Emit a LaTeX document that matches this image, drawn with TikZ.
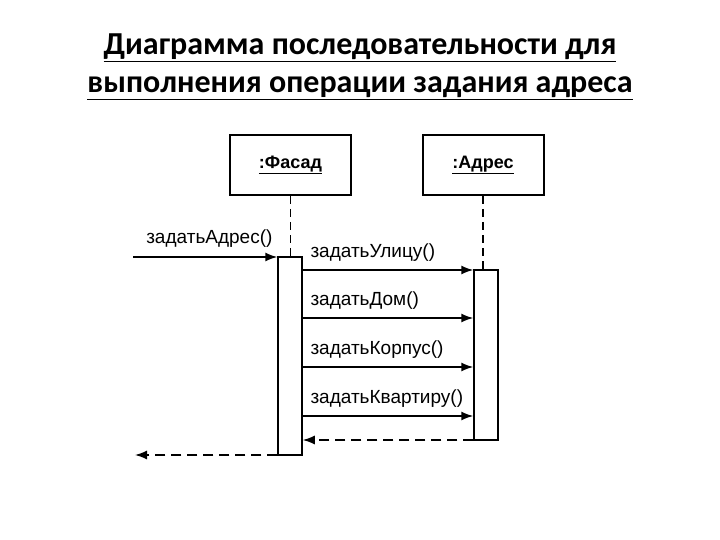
\documentclass[tikz,border=0pt]{standalone}
\usepackage{fontspec}
\setmainfont{Liberation Sans}
\newfontfamily\titlefont{Carlito}
\usetikzlibrary{arrows.meta}
\begin{document}
\begin{tikzpicture}[x=1pt,y=-1pt,
  obj/.style={draw,line width=2pt,minimum width=121pt,minimum height=60pt,font=\bfseries\fontsize{18}{20}\selectfont},
  act/.style={draw,line width=1.5pt,fill=white,minimum width=24pt,inner sep=0pt},
  msg/.style={line width=1.5pt,-{Latex[length=12pt,width=9pt]}},
  ret/.style={msg,dash pattern=on 10pt off 6pt},
  life/.style={line width=1.3pt,dash pattern=on 8pt off 5pt},
  lbl/.style={font=\fontsize{19}{21}\selectfont,anchor=south west,inner sep=1pt}]
\useasboundingbox (0,0) rectangle (720,540);
\node[font=\titlefont\bfseries\fontsize{32}{38}\selectfont] (t1) at (360,48) {\underline{Диаграмма последовательности для}};
\node[font=\titlefont\bfseries\fontsize{32}{38}\selectfont] (t2) at (360,88) {\underline{выполнения операции задания адреса}};
\node[obj] (fa) at (290.5,165) {\underline{:Фасад}};
\node[obj] (ad) at (483,165) {\underline{:Адрес}};
\node[act,minimum height=198pt] (fact) at (290,356) {};
\node[act,minimum height=170pt] (aact) at (486,355) {};
\draw[life] (fa.south) -- (fact.north -| fa.south);
\draw[life] (ad.south) -- (aact.north -| ad.south);
\coordinate (in) at (133,257);
\coordinate (out) at (135,455);
\draw[msg] (in) -- (in -| fact.west) node[lbl,pos=0.08,yshift=8pt] {задатьАдрес()};
\foreach \y/\t in {270/задатьУлицу(),318/задатьДом(),367/задатьКорпус(),416/задатьКвартиру()}{
  \draw[msg] (fact.east |- 0,\y) -- (aact.west |- 0,\y) node[lbl,at start,yshift=7pt,xshift=6pt] {\t};
}
\draw[ret] (aact.west |- 0,440) -- (fact.east |- 0,440);
\draw[ret] (fact.west |- out) -- (out);
\end{tikzpicture}
\end{document}
